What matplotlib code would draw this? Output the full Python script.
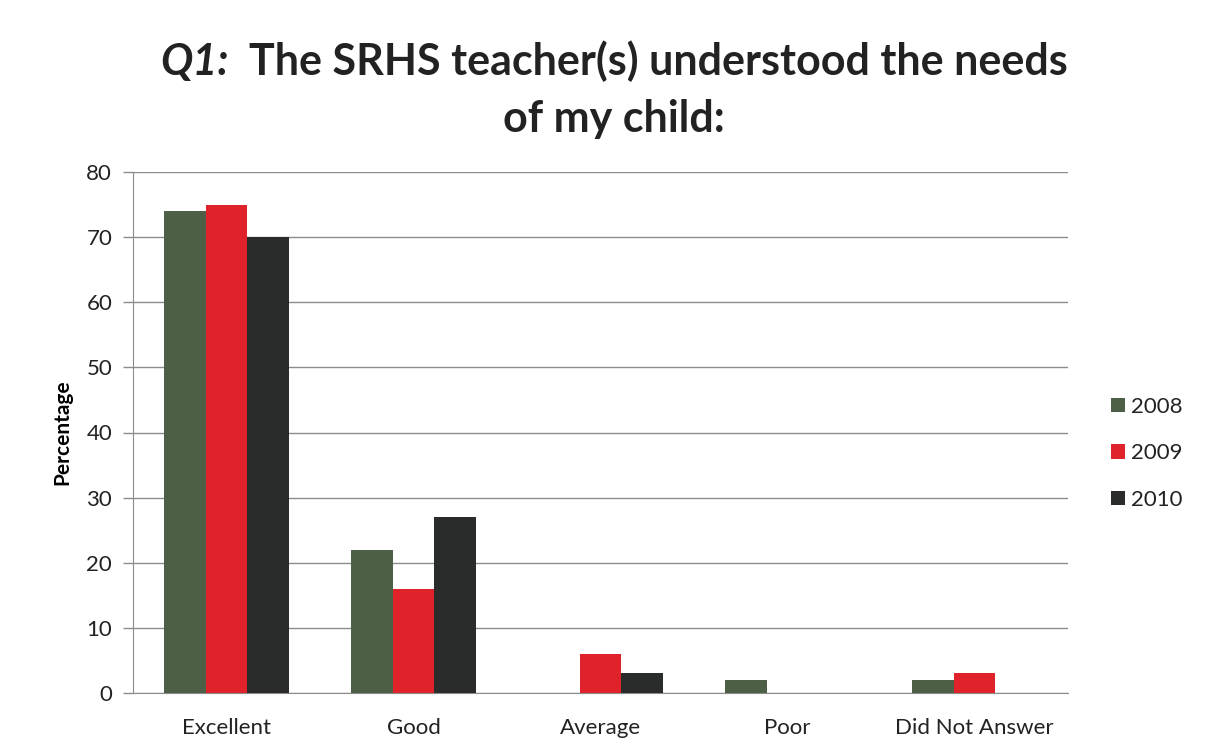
import matplotlib.pyplot as plt
import numpy as np

categories = ['Excellent', 'Good', 'Average', 'Poor', 'Did Not Answer']
years = ['2008', '2009', '2010']
pct_2008 = [74, 22, 0, 2, 2]
pct_2009 = [75, 16, 6, 0, 3]
pct_2010 = [70, 27, 3, 0, 0]
colors = ['#4e5f47', '#e0232b', '#2a2b2b']

plt.rcParams['font.family'] = ['Lato', 'DejaVu Sans']
plt.rcParams['text.color'] = '#222222'

fig = plt.figure(figsize=(12.05, 7.55), dpi=100)
ax = fig.add_axes([133/1205, 62/755, 935/1205, 521/755])

x = np.arange(len(categories))
w = 0.223
for i, (vals, yr) in enumerate(zip([pct_2008, pct_2009, pct_2010], years)):
    ax.bar(x + (i - 1) * w, vals, w, color=colors[i], label=yr, zorder=3)

ax.set_xlim(-0.5, len(categories) - 0.5)
ax.set_ylim(0, 80)
ax.set_yticks(range(0, 81, 10))
ax.set_xticks(x)
ax.set_xticklabels(categories)
ax.tick_params(axis='x', labelsize=16, length=0, pad=18, labelcolor='#222222')
ax.tick_params(axis='y', labelsize=16, length=7, width=1, color='#8c8c8c',
               pad=8, labelcolor='#222222')
ax.grid(axis='y', color='#8c8c8c', linewidth=1.0, zorder=0)
for s in ['top', 'right']:
    ax.spines[s].set_visible(False)
ax.spines['left'].set_color('#8c8c8c')
ax.spines['bottom'].set_color('#8c8c8c')
ax.set_ylabel('Percentage', fontsize=15, fontweight='bold', labelpad=10)

ax.legend(loc='center left', bbox_to_anchor=(1.025, 0.46), frameon=False,
          fontsize=16, handlelength=0.6, handleheight=0.6, handletextpad=0.3,
          labelspacing=1.2)

# title: "Q1:" bold italic, rest bold
fs = 31
t1 = fig.text(0, 0, 'Q1:', fontsize=fs, fontweight='bold', style='italic')
t2 = fig.text(0, 0, '  The SRHS teacher(s) understood the needs', fontsize=fs,
              fontweight='bold')
r = fig.canvas.get_renderer()
w1 = t1.get_window_extent(r).width
w2 = t2.get_window_extent(r).width
cx = 614
x0 = cx - (w1 + w2) / 2
y1 = 755 - 75
t1.set_position((x0 / 1205, y1 / 755))
t2.set_position(((x0 + w1) / 1205, y1 / 755))
fig.text(cx / 1205, (755 - 132) / 755, 'of my child:', fontsize=fs,
         fontweight='bold', ha='center')

fig.savefig('out.png', dpi=100)
